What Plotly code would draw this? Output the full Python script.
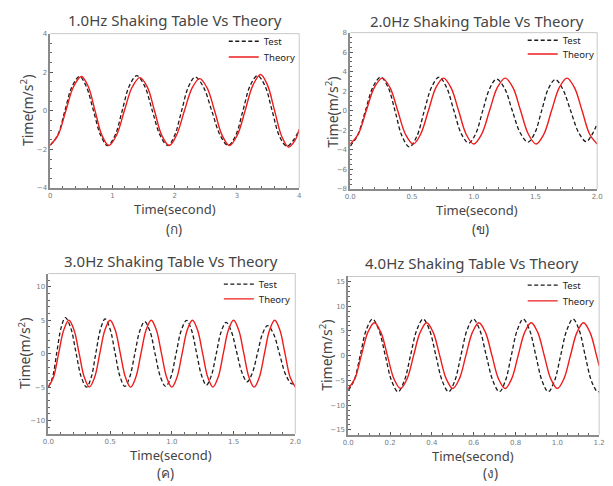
import plotly.graph_objects as go

# ---------------- data ----------------
# Panel 1: 1.0 Hz
t1_test = [0.0, 0.12, 0.235, 0.35, 0.47, 0.58, 0.695, 0.81, 0.92, 1.04, 1.155, 1.27, 1.39, 1.515, 1.64, 1.765,
           1.89, 2.0, 2.11, 2.22, 2.33, 2.46, 2.595, 2.73, 2.86, 2.98, 3.095, 3.21, 3.33, 3.45, 3.565, 3.68,
           3.80, 3.90, 4.0]
y1_test = [-1.78, -1.26, 0.0, 1.26, 1.78, 1.25, 0.0, -1.27, -1.80, -1.28, 0.0, 1.29, 1.82, 1.29, 0.0, -1.27,
           -1.80, -1.26, 0.0, 1.24, 1.75, 1.24, 0.0, -1.27, -1.80, -1.27, 0.0, 1.29, 1.82, 1.29, 0.0, -1.30,
           -1.84, -1.55, -1.0]
t1_theory = [0.0, 0.125, 0.25, 0.375, 0.50, 0.61, 0.72, 0.83, 0.94, 1.065, 1.19, 1.315, 1.44, 1.56, 1.675, 1.79,
             1.91, 2.03, 2.155, 2.28, 2.40, 2.52, 2.64, 2.76, 2.88, 3.005, 3.13, 3.255, 3.38, 3.49, 3.605, 3.72,
             3.83, 3.93, 4.0]
y1_theory = [-1.78, -1.26, 0.0, 1.26, 1.78, 1.26, 0.0, -1.27, -1.80, -1.26, 0.0, 1.22, 1.72, 1.23, 0.0, -1.26,
             -1.80, -1.25, 0.0, 1.19, 1.67, 1.19, 0.0, -1.26, -1.80, -1.26, 0.0, 1.32, 1.88, 1.33, 0.0, -1.33,
             -1.88, -1.55, -0.95]

# Panel 2: 2.0 Hz
t2_test = [0.0, 0.06, 0.123, 0.185, 0.246, 0.305, 0.363, 0.42, 0.48, 0.54, 0.60, 0.66, 0.72, 0.78, 0.84, 0.90,
           0.96, 1.016, 1.073, 1.13, 1.185, 1.25, 1.313, 1.377, 1.44, 1.495, 1.55, 1.605, 1.66, 1.72, 1.785, 1.85,
           1.91, 1.955, 2.0]
y2_test = [-3.6, -2.5, 0.0, 2.45, 3.45, 2.45, 0.0, -2.6, -3.7, -2.6, 0.0, 2.45, 3.45, 2.4, 0.0, -2.35,
           -3.3, -2.35, 0.0, 2.3, 3.25, 2.3, 0.0, -2.27, -3.2, -2.27, 0.0, 2.27, 3.2, 2.26, 0.0, -2.23,
           -3.15, -2.5, -1.3]
t2_theory = [0.0, 0.065, 0.13, 0.195, 0.26, 0.3225, 0.385, 0.4475, 0.51, 0.57, 0.633, 0.694, 0.755, 0.816, 0.878,
             0.939, 1.0, 1.064, 1.128, 1.191, 1.255, 1.318, 1.38, 1.443, 1.505, 1.568, 1.63, 1.693, 1.755, 1.816,
             1.878, 1.939, 2.0]
y2_theory = [-3.4, -2.4, 0.0, 2.37, 3.35, 2.37, 0.0, -2.4, -3.4, -2.4, 0.0, 2.37, 3.35, 2.37, 0.0,
             -2.4, -3.4, -2.4, 0.0, 2.37, 3.35, 2.37, 0.0, -2.4, -3.4, -2.4, 0.0, 2.37, 3.35, 2.37,
             0.0, -2.4, -3.4]

# Panel 3: 3.0 Hz
t3_test = [0.0, 0.035, 0.069, 0.104, 0.138, 0.181, 0.224, 0.267, 0.31, 0.348, 0.385, 0.423, 0.46, 0.50, 0.54, 0.58,
           0.62, 0.66, 0.70, 0.74, 0.78, 0.8225, 0.865, 0.9075, 0.95, 0.9925, 1.035, 1.0775, 1.12, 1.16, 1.20, 1.24,
           1.28, 1.32, 1.36, 1.40, 1.44, 1.4825, 1.525, 1.5675, 1.61, 1.651, 1.693, 1.734, 1.775, 1.824, 1.873,
           1.921, 1.97, 2.0]
y3_test = [-5.0, -3.5, 0.2, 3.9, 5.4, 3.9, 0.2, -3.5, -5.0, -3.5, 0.1, 3.7, 5.2, 3.7, 0.15, -3.4,
           -4.9, -3.45, -0.05, 3.35, 4.8, 3.4, -0.05, -3.45, -4.9, -3.5, 0.05, 3.55, 5.0, 3.5, 0.15, -3.2,
           -4.7, -3.3, 0.0, 3.3, 4.7, 3.3, 0.25, -2.8, -4.2, -2.95, 0.0, 2.95, 4.2, 2.95, -0.1,
           -3.1, -4.5, -4.4]
t3_theory = [0.0, 0.0417, 0.0833, 0.125, 0.1667, 0.2083, 0.25, 0.2917, 0.3333, 0.375, 0.4167, 0.4583, 0.5,
             0.5417, 0.5833, 0.625, 0.6667, 0.7083, 0.75, 0.7917, 0.8333, 0.875, 0.9167, 0.9583, 1.0, 1.0417,
             1.0833, 1.125, 1.1667, 1.2083, 1.25, 1.2917, 1.3333, 1.375, 1.4167, 1.4583, 1.5, 1.5417, 1.5833,
             1.625, 1.6667, 1.7083, 1.75, 1.7917, 1.8333, 1.875, 1.9167, 1.9583, 2.0]
y3_theory = [-5.0, -3.54, 0.0, 3.54, 5.0, 3.54, 0.0, -3.54, -5.0, -3.54, 0.0, 3.54, 5.0,
             3.54, 0.0, -3.54, -5.0, -3.54, 0.0, 3.54, 5.0, 3.54, 0.0, -3.54, -5.0, -3.54,
             0.0, 3.54, 5.0, 3.54, 0.0, -3.54, -5.0, -3.54, 0.0, 3.54, 5.0, 3.54, 0.0,
             -3.54, -5.0, -3.54, 0.0, 3.54, 5.0, 3.54, 0.0, -3.54, -5.0]

# Panel 4: 4.0 Hz
t4_test = [0.0, 0.029, 0.058, 0.087, 0.116, 0.1465, 0.177, 0.2075, 0.238, 0.268, 0.298, 0.328, 0.358, 0.3885,
           0.419, 0.4495, 0.48, 0.5095, 0.539, 0.5685, 0.598, 0.629, 0.66, 0.692, 0.723, 0.7515, 0.78, 0.8085,
           0.837, 0.867, 0.897, 0.927, 0.957, 0.9865, 1.016, 1.0455, 1.075, 1.104, 1.133, 1.163, 1.192, 1.2]
y4_test = [-7.0, -4.9, 0.2, 5.3, 7.4, 5.2, 0.05, -5.1, -7.3, -5.1, 0.05, 5.2, 7.4, 5.2,
           0.05, -5.1, -7.3, -5.1, 0.05, 5.2, 7.4, 5.2, 0.05, -5.1, -7.3, -5.1, 0.05, 5.2,
           7.4, 5.2, 0.05, -5.1, -7.3, -5.1, 0.05, 5.2, 7.4, 5.2, 0.05, -5.1, -7.3, -7.25]
t4_theory = [0.0, 0.03125, 0.0625, 0.09375, 0.125, 0.15625, 0.1875, 0.21875, 0.25, 0.28125, 0.3125, 0.34375,
             0.375, 0.40625, 0.4375, 0.46875, 0.5, 0.53125, 0.5625, 0.59375, 0.625, 0.65625, 0.6875, 0.71875,
             0.75, 0.78125, 0.8125, 0.84375, 0.875, 0.90625, 0.9375, 0.96875, 1.0, 1.03125, 1.0625, 1.09375,
             1.125, 1.15625, 1.1875, 1.2]
y4_theory = [-6.65, -4.7, 0.0, 4.7, 6.65, 4.7, 0.0, -4.7, -6.65, -4.7, 0.0, 4.7,
             6.65, 4.7, 0.0, -4.7, -6.65, -4.7, 0.0, 4.7, 6.65, 4.7, 0.0, -4.7,
             -6.65, -4.7, 0.0, 4.7, 6.65, 4.7, 0.0, -4.7, -6.65, -4.7, 0.0, 4.7,
             6.65, 4.7, 0.0, -2.05]

titles = ["1.0Hz Shaking Table Vs Theory", "2.0Hz Shaking Table Vs Theory",
          "3.0Hz Shaking Table Vs Theory", "4.0Hz Shaking Table Vs Theory"]
sub_labels = ["(ก)", "(ข)", "(ค)", "(ง)"]
series_names = ["Test", "Theory"]
x_title = "Time(second)"
y_title = "Time(m/s<sup>2</sup>)"

x_ranges = [[0, 4], [0, 2], [0, 2], [0, 1.2]]
y_ranges = [[-4, 4], [-8, 8], [-12, 12], [-16, 16]]
x_dticks = [1, 0.5, 0.5, 0.2]
x_minor = [0.2, 0.1, 0.1, 0.05]
y_dticks = [2, 2, 5, 5]
y_minor = [0.5, 0.5, 1, 1]
x_formats = ["d", ".1f", ".1f", ".1f"]

# ---------------- layout helpers ----------------
OFF = 8                      # page body margin around the figure
W, H = 613 - OFF, 486 - OFF  # figure size so that the page is 613x486
def px(x):
    return (x - OFF) / W
def py(y):
    return 1 - (y - OFF) / H

# plot boxes in page pixels: left, right, top, bottom
boxes = [(45, 299, 30, 187), (351, 603, 29, 188), (43, 295, 274, 437), (349, 605, 277, 438)]
title_pos = [(172, 16), (480, 17), (168, 261), (475, 263)]
xt_pos = [(172, 208), (480, 209), (168, 459), (476, 459.5)]
sub_pos = [(171, 229), (484, 229), (163, 477), (494, 477)]
yt_pos = [(22, 108), (333, 110), (19, 355), (327, 357)]
# legend anchors (left, top) for the Test row and the Theory row
leg_x = [222, 527, 217, 527]
leg_top = [(23, 39), (22, 36), (270, 285), (271, 287)]

data = [(t1_test, y1_test, t1_theory, y1_theory),
        (t2_test, y2_test, t2_theory, y2_theory),
        (t3_test, y3_test, t3_theory, y3_theory),
        (t4_test, y4_test, t4_theory, y4_theory)]

fig = go.Figure()
text_color = "#454545"
tick_font = dict(family="DejaVu Sans", size=7, color="#7a7a7a")
txt_family = "Noto Sans"

def legend_name(k):
    return "legend" if k == 1 else "legend" + str(k)

for i in range(4):
    sfx = "" if i == 0 else str(i + 1)
    leg_a = legend_name(2 * i + 1)
    leg_b = legend_name(2 * i + 2)
    tt, yt, tth, yth = data[i]
    fig.add_trace(go.Scatter(x=tt, y=yt, mode="lines", name=series_names[0],
                             line=dict(color="#1a1a1a", width=1.3, dash="4px,2.5px", shape="spline", smoothing=1.0),
                             xaxis="x" + sfx, yaxis="y" + sfx, legend=leg_a))
    fig.add_trace(go.Scatter(x=tth, y=yth, mode="lines", name=series_names[1],
                             line=dict(color="#ee1c1c", width=1.4, shape="spline", smoothing=1.0),
                             xaxis="x" + sfx, yaxis="y" + sfx, legend=leg_b))

    l, r, t, b = boxes[i]
    xa = dict(domain=[px(l), px(r)], range=x_ranges[i], dtick=x_dticks[i], tick0=0,
              tickformat=x_formats[i], showgrid=False, zeroline=False, showline=True,
              linecolor="#8a8a8a", linewidth=1.5, ticks="inside", ticklen=3, tickcolor="#555555",
              tickfont=tick_font, anchor="y" + sfx, fixedrange=True,
              minor=dict(dtick=x_minor[i], tick0=0, ticks="inside", ticklen=2, tickcolor="#666666", showgrid=False))
    ya = dict(domain=[py(b), py(t)], range=y_ranges[i], dtick=y_dticks[i], tick0=0,
              showgrid=False, zeroline=False, showline=True,
              linecolor="#8a8a8a", linewidth=1.5, ticks="inside", ticklen=3, tickcolor="#555555",
              tickfont=tick_font, anchor="x" + sfx, fixedrange=True,
              minor=dict(dtick=y_minor[i], tick0=0, ticks="inside", ticklen=2, tickcolor="#666666", showgrid=False))
    fig.update_layout({"xaxis" + sfx: xa, "yaxis" + sfx: ya})

    # light top/right frame
    fig.add_shape(type="line", xref="paper", yref="paper", x0=px(l), x1=px(r), y0=py(t), y1=py(t),
                  line=dict(color="#c8c8c8", width=1))
    fig.add_shape(type="line", xref="paper", yref="paper", x0=px(r), x1=px(r), y0=py(t), y1=py(b),
                  line=dict(color="#c8c8c8", width=1))

    fig.add_annotation(text=titles[i], x=px(title_pos[i][0]), y=py(title_pos[i][1]), xref="paper", yref="paper",
                       showarrow=False, xanchor="center", yanchor="middle",
                       font=dict(family=txt_family, size=15, color=text_color))
    fig.add_annotation(text=x_title, x=px(xt_pos[i][0]), y=py(xt_pos[i][1]), xref="paper", yref="paper",
                       showarrow=False, xanchor="center", yanchor="middle",
                       font=dict(family=txt_family, size=13, color=text_color))
    fig.add_annotation(text=sub_labels[i], x=px(sub_pos[i][0]), y=py(sub_pos[i][1]), xref="paper", yref="paper",
                       showarrow=False, xanchor="center", yanchor="middle",
                       font=dict(family=txt_family, size=13.5, color=text_color))
    fig.add_annotation(text=y_title, x=px(yt_pos[i][0]), y=py(yt_pos[i][1]), xref="paper", yref="paper",
                       showarrow=False, xanchor="center", yanchor="middle", textangle=-90,
                       font=dict(family=txt_family, size=14, color=text_color))

    for leg, top in ((leg_a, leg_top[i][0]), (leg_b, leg_top[i][1])):
        fig.update_layout({leg: dict(x=px(leg_x[i]), y=py(top), xanchor="left", yanchor="top",
                                     bgcolor="rgba(0,0,0,0)", borderwidth=0, itemwidth=30,
                                     font=dict(family=txt_family, size=9.5, color="#222222"))})

fig.update_layout(width=W, height=H, margin=dict(l=0, r=0, t=0, b=0),
                  paper_bgcolor="white", plot_bgcolor="white", showlegend=True)

fig.write_html("out.html")
